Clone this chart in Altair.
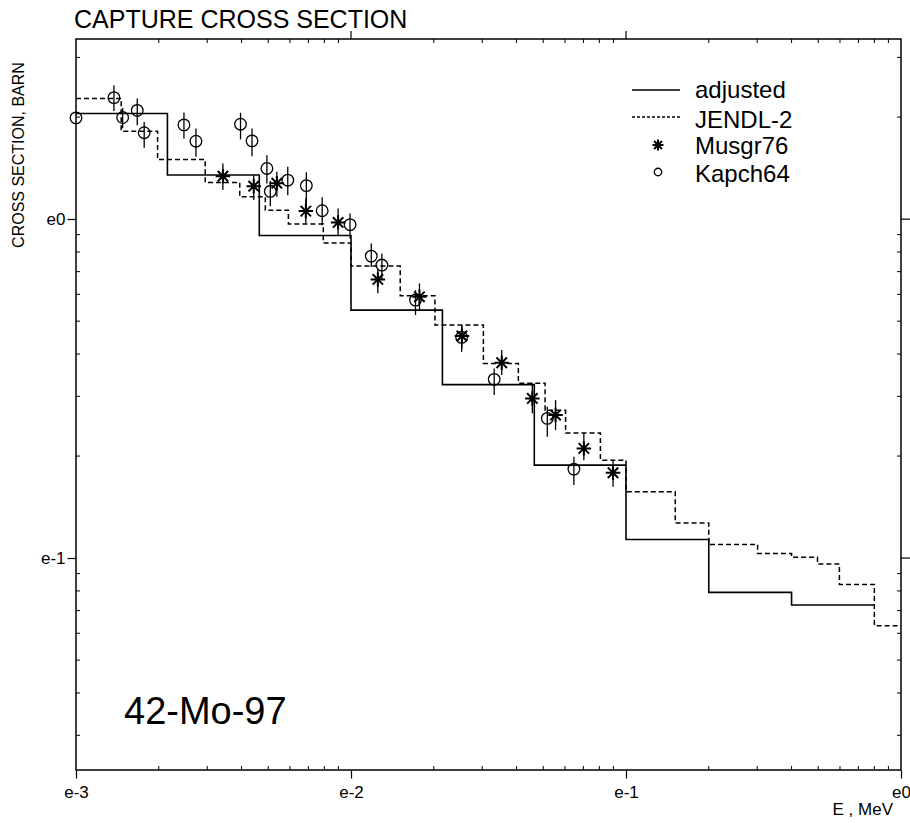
import altair as alt
import pandas as pd

# ---------------- data ----------------
# adjusted group cross section (step function: edges and group values)
adj_edges = [0.001, 0.00215, 0.00464, 0.01, 0.0215, 0.0464, 0.1, 0.2, 0.4, 0.8]
adj_values = [2.05, 1.35, 0.895, 0.539, 0.325, 0.188, 0.1135, 0.0792, 0.0727]

# JENDL-2 group cross section
jendl_edges = [0.001, 0.00146, 0.00198, 0.00295, 0.00394, 0.00488, 0.00592, 0.00793,
               0.01, 0.0151, 0.0202, 0.0303, 0.0406, 0.0508, 0.0603, 0.0807,
               0.1, 0.151, 0.2, 0.301, 0.4, 0.497, 0.597, 0.8, 1.0]
jendl_values = [2.27, 1.818, 1.50, 1.283, 1.164, 1.063, 0.967, 0.851,
                0.727, 0.594, 0.487, 0.375, 0.328, 0.273, 0.234, 0.1945,
                0.157, 0.127, 0.1097, 0.1032, 0.1005, 0.096, 0.0836, 0.0631]

# Kapch64 measurements (energy MeV, sigma barn, error bar ends)
kap_e = [1.0e-3, 1.374e-3, 1.478e-3, 1.670e-3, 1.770e-3, 2.469e-3, 2.730e-3, 3.965e-3,
         4.366e-3, 4.945e-3, 5.088e-3, 5.889e-3, 6.880e-3, 7.857e-3, 9.92e-3, 1.185e-2,
         1.295e-2, 1.716e-2, 2.525e-2, 3.317e-2, 5.174e-2, 6.465e-2]
kap_sigma = [1.990, 2.283, 1.995, 2.093, 1.799, 1.897, 1.698, 1.906,
             1.702, 1.411, 1.208, 1.303, 1.256, 1.059, 0.963, 0.778,
             0.732, 0.577, 0.448, 0.3367, 0.2583, 0.1830]
kap_hi = [1.990, 2.485, 2.126, 2.270, 1.936, 2.064, 1.851, 2.059,
          1.851, 1.544, 1.295, 1.427, 1.376, 1.161, 1.039, 0.848,
          0.792, 0.617, 0.487, 0.3628, 0.2794, 0.1989]
kap_lo = [1.990, 2.083, 1.855, 1.893, 1.623, 1.730, 1.527, 1.719,
          1.534, 1.274, 1.092, 1.177, 1.049, 0.960, 0.877, 0.723,
          0.661, 0.521, 0.406, 0.3026, 0.2279, 0.1642]

# Musgr76 measurements
mus_e = [3.421e-3, 4.428e-3, 5.375e-3, 6.851e-3, 8.978e-3, 1.252e-2, 1.774e-2,
         2.531e-2, 3.533e-2, 4.565e-2, 5.545e-2, 7.027e-2, 8.972e-2]
mus_sigma = [1.339, 1.251, 1.277, 1.056, 0.978, 0.664, 0.590,
             0.452, 0.3769, 0.2959, 0.2642, 0.2107, 0.1785]
mus_hi = [1.460, 1.348, 1.379, 1.151, 1.075, 0.715, 0.646,
          0.487, 0.4108, 0.3276, 0.2924, 0.2333, 0.1955]
mus_lo = [1.218, 1.138, 1.164, 0.971, 0.897, 0.604, 0.539,
          0.4155, 0.3467, 0.2673, 0.2385, 0.1945, 0.1623]

# axis tick values
x_major = [0.001, 0.01, 0.1, 1.0]
y_major = [0.1, 1.0]
x_minor = [0.002, 0.003, 0.004, 0.005, 0.006, 0.007, 0.008, 0.009,
           0.02, 0.03, 0.04, 0.05, 0.06, 0.07, 0.08, 0.09,
           0.2, 0.3, 0.4, 0.5, 0.6, 0.7, 0.8, 0.9]
y_minor = [0.03, 0.04, 0.05, 0.06, 0.07, 0.08, 0.09,
           0.2, 0.3, 0.4, 0.5, 0.6, 0.7, 0.8, 0.9, 2.0, 3.0]

# ---------------- tables ----------------
adj_df = pd.DataFrame({"E": adj_edges, "sigma": adj_values + [adj_values[-1]]})
jendl_df = pd.DataFrame({"E": jendl_edges, "sigma": jendl_values + [jendl_values[-1]]})
kap_df = pd.DataFrame({"E": kap_e, "sigma": kap_sigma, "lo": kap_lo, "hi": kap_hi})
mus_df = pd.DataFrame({"E": mus_e, "sigma": mus_sigma, "lo": mus_lo, "hi": mus_hi})
xmin_df = pd.DataFrame({"t": x_minor})
ymin_df = pd.DataFrame({"t": y_minor})
xmaj_df = pd.DataFrame({"t": x_major[1:3]})
ymaj_df = pd.DataFrame({"t": y_major})

W, H = 825, 731
FONT = "Liberation Sans"
ASTER = "M-1,0L1,0M0,-1L0,1M-0.72,-0.72L0.72,0.72M-0.72,0.72L0.72,-0.72"

xscale = alt.Scale(type="log", domain=[0.001, 1.0], nice=False)
yscale = alt.Scale(type="log", domain=[0.0237, 3.4], nice=False)

xaxis = alt.Axis(values=x_major, title=None, grid=False, domain=False,
                 tickSize=8, tickWidth=1.2, tickColor="black",
                 labelExpr="datum.value < 0.005 ? 'e-3' : datum.value < 0.05 ? 'e-2' : datum.value < 0.5 ? 'e-1' : 'e0'",
                 labelFont=FONT, labelFontSize=17, labelColor="black",
                 labelPadding=6, labelFlush=False, labelOverlap=False)
yaxis = alt.Axis(values=y_major, title=None, grid=False, domain=False,
                 tickSize=9, tickWidth=1.2, tickColor="black",
                 labelExpr="datum.value < 0.5 ? 'e-1' : 'e0'",
                 labelFont=FONT, labelFontSize=17, labelColor="black",
                 labelPadding=2, labelFlush=False, labelOverlap=False)


def X(field):
    return alt.X(f"{field}:Q", scale=xscale, axis=xaxis)


def Y(field):
    return alt.Y(f"{field}:Q", scale=yscale, axis=yaxis)


one = alt.Data(values=[{"k": 0}])

adj_line = alt.Chart(adj_df).mark_line(interpolate="step-after", color="black",
                                       strokeWidth=1.6).encode(x=X("E"), y=Y("sigma"))
jendl_line = alt.Chart(jendl_df).mark_line(interpolate="step-after", color="black",
                                           strokeWidth=1.5, strokeDash=[5, 3]).encode(x=X("E"), y=Y("sigma"))

kap_err = alt.Chart(kap_df).mark_rule(color="black", strokeWidth=1.3).encode(
    x=X("E"), y=Y("lo"), y2="hi:Q")
kap_pts = alt.Chart(kap_df).mark_point(shape="circle", size=135, filled=False,
                                       color="black", strokeWidth=1.3, opacity=1).encode(
    x=X("E"), y=Y("sigma"))
mus_err = alt.Chart(mus_df).mark_rule(color="black", strokeWidth=1.3).encode(
    x=X("E"), y=Y("lo"), y2="hi:Q")
mus_pts = alt.Chart(mus_df).mark_point(shape=ASTER, size=210, filled=False,
                                       color="black", strokeWidth=2.0, opacity=1).encode(
    x=X("E"), y=Y("sigma"))

tick_style = dict(color="black", strokeWidth=1)
xmin_bot = alt.Chart(xmin_df).mark_rule(**tick_style).encode(
    x=X("t"), y=alt.value(H), y2=alt.value(H - 4))
xmin_top = alt.Chart(xmin_df).mark_rule(**tick_style).encode(
    x=X("t"), y=alt.value(0), y2=alt.value(4))
xmaj_top = alt.Chart(xmaj_df).mark_rule(color="black", strokeWidth=1.2).encode(
    x=X("t"), y=alt.value(0), y2=alt.value(-8))
ymin_left = alt.Chart(ymin_df).mark_rule(**tick_style).encode(
    y=Y("t"), x=alt.value(0), x2=alt.value(4))
ymin_right = alt.Chart(ymin_df).mark_rule(**tick_style).encode(
    y=Y("t"), x=alt.value(W - 4), x2=alt.value(W))
ymaj_right = alt.Chart(ymaj_df).mark_rule(color="black", strokeWidth=1.2).encode(
    y=Y("t"), x=alt.value(W), x2=alt.value(W + 9))


def label(txt, x, y, size, align="left", angle=None, baseline="alphabetic"):
    kw = dict(text=txt, font=FONT, fontSize=size, align=align, baseline=baseline, color="black")
    if angle is not None:
        kw["angle"] = angle
    return alt.Chart(one).mark_text(**kw).encode(x=alt.value(x), y=alt.value(y))


title = label("CAPTURE CROSS SECTION", -2, -11, 25)
ytitle = label("CROSS SECTION, BARN", -57, 116, 16, align="center", angle=270, baseline="middle")
xtitle = label("E , MeV", 817, 776, 17, align="right")
nuclide = label("42-Mo-97", 48, 685, 38)

# legend
leg_solid = alt.Chart(one).mark_rule(color="black", strokeWidth=1.6).encode(
    x=alt.value(556), x2=alt.value(604), y=alt.value(51))
leg_dash = alt.Chart(one).mark_rule(color="black", strokeWidth=1.3, strokeDash=[3, 2]).encode(
    x=alt.value(556), x2=alt.value(604), y=alt.value(78))
leg_ast = alt.Chart(one).mark_point(shape=ASTER, size=120, filled=False, color="black",
                                    strokeWidth=2.0, opacity=1).encode(
    x=alt.value(582), y=alt.value(106))
leg_circ = alt.Chart(one).mark_point(shape="circle", size=55, filled=False, color="black",
                                     strokeWidth=1.4, opacity=1).encode(
    x=alt.value(582), y=alt.value(133))
leg_t1 = label("adjusted", 619, 58.5, 24)
leg_t2 = label("JENDL-2", 619, 89, 24)
leg_t3 = label("Musgr76", 619, 115, 24)
leg_t4 = label("Kapch64", 619, 142.5, 24)

chart = alt.layer(
    xmin_bot, xmin_top, xmaj_top, ymin_left, ymin_right, ymaj_right,
    jendl_line, adj_line, kap_err, mus_err, kap_pts, mus_pts,
    title, ytitle, xtitle, nuclide,
    leg_solid, leg_dash, leg_ast, leg_circ, leg_t1, leg_t2, leg_t3, leg_t4,
).properties(
    width=W, height=H,
    padding={"left": 76, "top": 39, "right": 9, "bottom": 53},
    autosize=alt.AutoSizeParams(type="none"),
    background="white",
).configure_view(stroke="black", strokeWidth=1.5)

chart.save("out.html", embed_options={"renderer": "svg", "actions": False})
